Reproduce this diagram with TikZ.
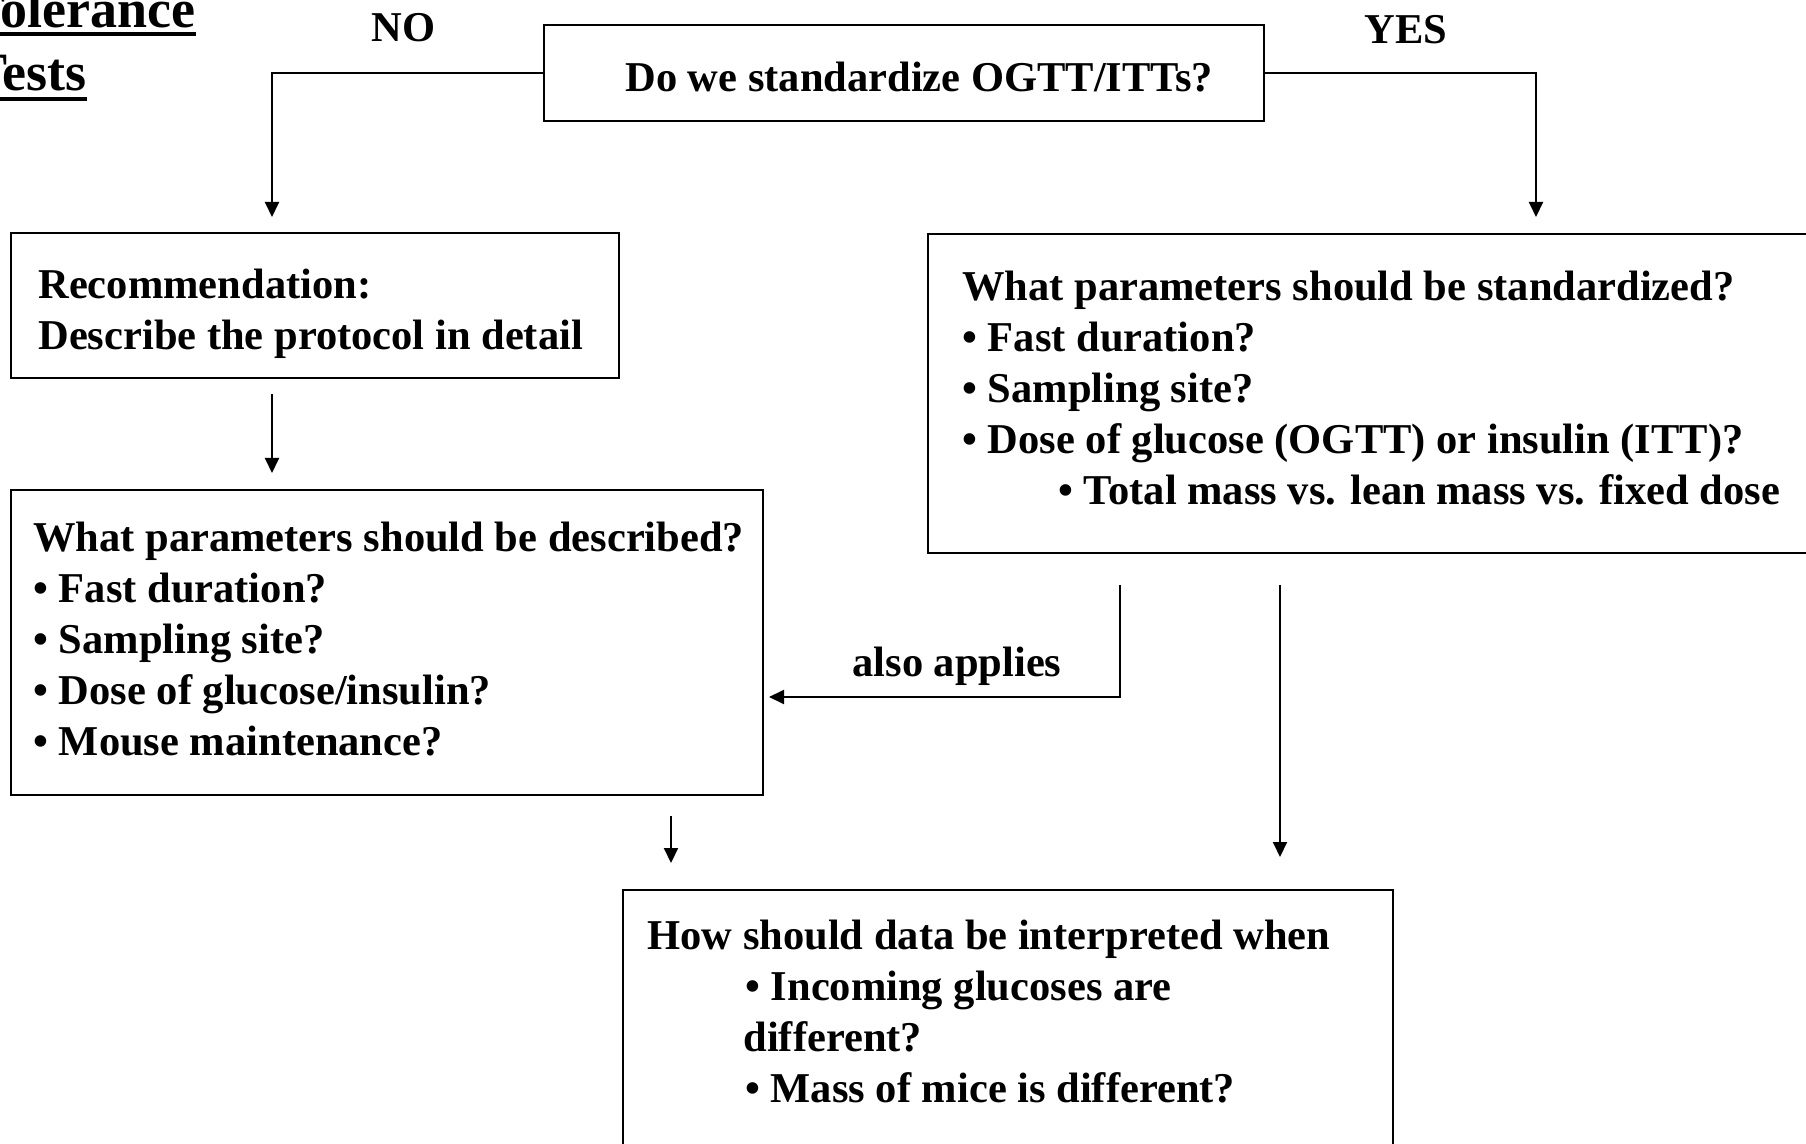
\documentclass[tikz,border=0pt]{standalone}
\usepackage{fontspec}
\setmainfont{Liberation Serif}
\usetikzlibrary{arrows.meta}
\begin{document}
\begin{tikzpicture}[x=0.5pt,y=-0.5pt,
  box/.style={draw, line width=1pt, inner sep=0, rectangle},
  txt/.style={anchor=base west, inner sep=0, align=left, font=\fontsize{21.25}{25.5}\selectfont\bfseries},
  ttl/.style={anchor=base east, inner sep=0, font=\fontsize{27}{30}\selectfont\bfseries},
  conn/.style={line width=1pt, -{Triangle[length=7.5pt,width=7pt]}},
  uline/.style={line width=2pt}]
\useasboundingbox (0,0) rectangle (1806,1144);

% boxes (sizes in pt = half of the pixel sizes)
\node[box, minimum width=360pt, minimum height=48pt] (q) at (904,73) {};
\node[box, minimum width=304pt, minimum height=72.5pt] (rec) at (315,305.5) {};
\node[box, minimum width=376pt, minimum height=152.5pt] (desc) at (387,642.5) {};
\node[box, minimum width=461pt, minimum height=159.5pt] (std) at (1389,393.5) {};
\node[box, minimum width=385pt, minimum height=155pt] (how) at (1008,1045) {};

% title (cut at the left edge)
\node[ttl] (t1) at (196,28) {Tolerance};
\node[ttl] (t2) at (87,91) {Tests};
\draw[uline] (-80,34) -- (t1.base east |- 0,34);
\draw[uline] (-80,99) -- (t2.base east |- 0,99);

% texts (anchor = baseline of the last line)
\node[txt] (no) at (371,42) {NO};
\node[txt] (yes) at (1364,44) {YES};
\node[txt] (qt) at (625,91.5) {Do we standardize OGTT/ITTs?};
\node[txt] (rect) at (38,349.5) {Recommendation:\\Describe the protocol in detail};
\node[txt] (desct) at (33,755.5) {What parameters should be described?\\• Fast duration?\\• Sampling site?\\• Dose of glucose/insulin?\\• Mouse maintenance?};
\node[txt] (stdt) at (962,504.5) {What parameters should be standardized?\\• Fast duration?\\• Sampling site?\\• Dose of glucose (OGTT) or insulin (ITT)?\\\hspace*{48pt}• Total mass vs. lean mass vs. fixed dose};
\node[txt] (howt) at (647,1102) {How should data be interpreted when\\\hspace*{49pt}• Incoming glucoses are\\\hspace*{48pt}different?\\\hspace*{49pt}• Mass of mice is different?};
\node[txt] (also) at (852,676) {also applies};

% connector end points
\coordinate (noend) at (272,217);
\coordinate (yesend) at (1536,217);
\coordinate (r1) at (272,394);
\coordinate (r2) at (272,473);
\coordinate (al1) at (1120,585);
\coordinate (al2) at (769,697);
\coordinate (d1) at (1280,585);
\coordinate (d2) at (1280,857);
\coordinate (s1) at (671,816);
\coordinate (s2) at (671,863);

% connectors
\draw[conn] (q.west) -| (noend);
\draw[conn] (q.east) -| (yesend);
\draw[conn] (r1) -- (r2);
\draw[conn] (al1) |- (al2);
\draw[conn] (d1) -- (d2);
\draw[conn] (s1) -- (s2);
\end{tikzpicture}
\end{document}
